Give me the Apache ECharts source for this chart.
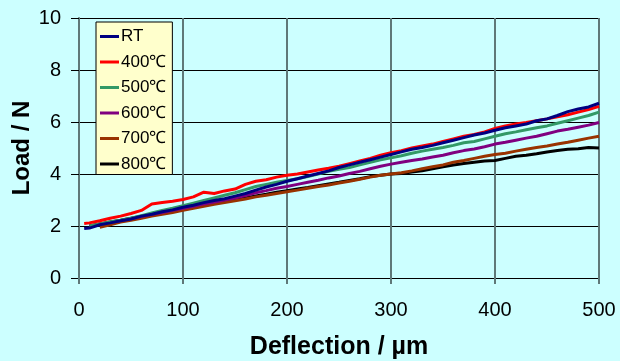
<!DOCTYPE html>
<html><head><meta charset="utf-8">
<script src="https://cdn.jsdelivr.net/npm/echarts@6/dist/echarts.min.js"></script>
<style>html,body{margin:0;padding:0;background:#ccffff}#c{width:620px;height:361px}</style>
</head><body><div id="c"></div>
<script>
var deflection = [5,10,20,30,40,50,60,70,80,90,100,110,120,130,140,150,160,170,180,190,200,210,220,230,240,250,260,270,280,290,300,310,320,330,340,350,360,370,380,390,400,410,420,430,440,450,460,470,480,490,500];
var seriesNames = ['RT','400℃','500℃','600℃','700℃','800℃'];
var loadRT = [1.9,1.92,2.05,2.12,2.2,2.27,2.38,2.45,2.55,2.62,2.72,2.8,2.9,2.98,3.05,3.15,3.25,3.38,3.5,3.6,3.72,3.82,3.92,4.02,4.12,4.25,4.35,4.45,4.55,4.65,4.75,4.85,4.95,5.02,5.1,5.2,5.3,5.4,5.5,5.58,5.68,5.78,5.85,5.92,6.05,6.12,6.25,6.4,6.5,6.58,6.72];
var load400 = [2.1,2.12,2.2,2.3,2.38,2.48,2.6,2.85,2.9,2.95,3.02,3.12,3.3,3.25,3.35,3.42,3.6,3.72,3.78,3.88,3.95,4.0,4.08,4.15,4.22,4.3,4.4,4.5,4.6,4.72,4.82,4.9,5.0,5.08,5.15,5.25,5.35,5.45,5.52,5.62,5.75,5.85,5.92,5.98,6.05,6.12,6.2,6.28,6.38,6.48,6.6];
var load500 = ['-',2.0,2.08,2.15,2.22,2.3,2.4,2.5,2.6,2.68,2.78,2.88,2.98,3.08,3.18,3.28,3.4,3.52,3.6,3.68,3.75,3.82,3.9,4.0,4.1,4.18,4.25,4.35,4.45,4.55,4.62,4.7,4.8,4.88,4.95,5.02,5.1,5.2,5.25,5.35,5.45,5.55,5.62,5.7,5.78,5.85,5.95,6.05,6.15,6.25,6.38];
var load600 = ['-',2.0,2.07,2.14,2.2,2.28,2.36,2.45,2.52,2.6,2.68,2.76,2.85,2.92,3.0,3.08,3.17,3.28,3.36,3.45,3.52,3.6,3.68,3.76,3.85,3.92,4.02,4.1,4.2,4.3,4.38,4.45,4.52,4.58,4.65,4.72,4.82,4.9,4.96,5.05,5.15,5.22,5.3,5.38,5.45,5.55,5.65,5.72,5.8,5.88,5.98];
var load700 = ['-','-',1.95,2.05,2.15,2.22,2.3,2.38,2.45,2.52,2.6,2.68,2.76,2.84,2.9,2.97,3.04,3.12,3.18,3.25,3.32,3.38,3.45,3.52,3.58,3.65,3.72,3.8,3.88,3.95,4.0,4.05,4.12,4.2,4.28,4.35,4.45,4.52,4.6,4.68,4.75,4.8,4.88,4.95,5.02,5.08,5.15,5.22,5.3,5.38,5.45];
var load800 = ['-',2.0,2.08,2.15,2.22,2.3,2.38,2.42,2.5,2.58,2.65,2.72,2.8,2.88,2.95,3.02,3.08,3.15,3.22,3.3,3.36,3.42,3.48,3.55,3.62,3.68,3.75,3.82,3.9,3.95,4.0,4.02,4.08,4.12,4.2,4.28,4.35,4.4,4.45,4.5,4.52,4.6,4.68,4.72,4.78,4.85,4.9,4.95,4.97,5.02,5.0];
var xTicks = [0,100,200,300,400,500];
var yTicks = [0,2,4,6,8,10];

var loads = [loadRT,load400,load500,load600,load700,load800];
var colors = ['#000080','#ff0000','#339966','#800080','#993300','#000000'];
var series = seriesNames.map(function(n,i){
  return {name:n,type:'line',showSymbol:false,symbol:'none',
    data: deflection.map(function(x,j){return [x, loads[i][j]];}),
    lineStyle:{width:3,color:colors[i]}, itemStyle:{color:colors[i]}, z: 10-i};
});
var chart = echarts.init(document.getElementById('c'));
chart.setOption({
  backgroundColor:'#ccffff',
  animation:false,
  textStyle:{fontFamily:'Liberation Sans, Arial, sans-serif'},
  grid:{left:79,right:21,top:18,bottom:83,show:false,containLabel:false,outerBoundsMode:'none'},
  legend:{orient:'vertical',left:96,top:22,backgroundColor:'#ffffcc',borderColor:'#000',borderWidth:1,
    padding:[6,6,2,4],itemGap:8.5,itemWidth:19,itemHeight:3,icon:'rect',
    textStyle:{fontSize:17,color:'#000',padding:[0,0,0,-3]},data:seriesNames},
  xAxis:{type:'value',min:0,max:500,interval:100,
    name:'Deflection / µm',nameLocation:'middle',nameGap:57,nameMoveOverlap:false,
    nameTextStyle:{fontSize:25,fontWeight:'bold',color:'#000'},
    axisLine:{show:true,lineStyle:{color:'#000',width:1}},
    axisTick:{show:true,length:6,lineStyle:{color:'#5f7878',width:2}},
    axisLabel:{fontSize:20,color:'#000',margin:22},
    splitLine:{show:true,lineStyle:{color:'#5f7878',width:2}}},
  yAxis:{type:'value',min:0,max:10,interval:2,
    name:'Load / N',nameLocation:'middle',nameGap:45,nameMoveOverlap:false,
    nameTextStyle:{fontSize:24,fontWeight:'bold',color:'#000'},
    axisLine:{show:true,lineStyle:{color:'#5f7878',width:2}},
    axisTick:{show:true,length:8,lineStyle:{color:'#000',width:1}},
    axisLabel:{fontSize:20,color:'#000',margin:18},
    splitLine:{show:true,lineStyle:{color:'#000',width:1}}},
  series:series
});
</script></body></html>
